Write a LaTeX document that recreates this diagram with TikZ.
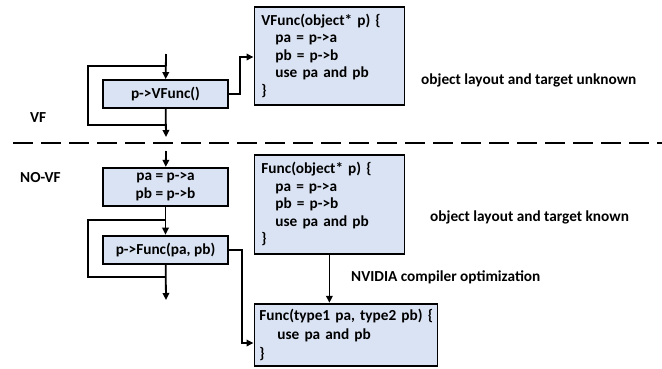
\documentclass[tikz,border=0pt]{standalone}
\usepackage{fontspec}
\setmainfont{Carlito}
\usetikzlibrary{arrows.meta, positioning, calc}
\definecolor{boxblue}{HTML}{DAE3F3}
\tikzstyle{block} = [rectangle, draw, line width=1.8pt, fill=boxblue, text centered, align=center, minimum width=125pt, inner sep=1pt]
\tikzstyle{code}  = [rectangle, draw, line width=1.8pt, fill=boxblue, align=left, inner xsep=7pt, inner ysep=0pt]
\tikzstyle{flow}  = [line width=1.8pt, -{Triangle[length=7pt, width=6.5pt]}]
\tikzstyle{backloop} = [line width=1.8pt]
\tikzstyle{divider} = [line width=1.8pt, dash pattern=on 20pt off 8pt]
\tikzstyle{note}  = [anchor=west, inner sep=0pt]

\begin{document}
\begin{tikzpicture}[x=1pt, y=-1pt, font=\bfseries\fontsize{15.3}{17.5}\selectfont]
	\useasboundingbox (0,0) rectangle (662,368);

	% Left column: call sites
	\node (vfcall) [block, minimum height=28pt] at (165.5,94) {p->VFunc()};
	\node (paload) [block, minimum height=38pt, below=58pt of vfcall] {pa = p->a\\pb = p->b};
	\node (fcall)  [block, minimum height=28pt, below=28pt of paload] {p->Func(pa, pb)};

	% Right column: callee bodies
	\node (vfbody) [code, anchor=north west, text width=136pt, minimum height=98pt] at (253.5,6)
		{VFunc(object* p) \{\\\hspace{14pt}pa = p->a\\\hspace{14pt}pb = p->b\\\hspace{14pt}use pa and pb\\\}};
	\node (fbody)  [code, anchor=north west, text width=136pt, minimum height=99pt] at (253.5,154)
		{Func(object* p) \{\\\hspace{14pt}pa = p->a\\\hspace{14pt}pb = p->b\\\hspace{14pt}use pa and pb\\\}};
	\node (fspec)  [code, below=48pt of fbody.south west, anchor=north west, text width=173pt, inner xsep=5pt,
		minimum height=62pt, font=\bfseries\fontsize{15.3}{19}\selectfont]
		{\mbox{Func(type1 pa, type2 pb) \{}\\\hspace{18pt}use pa and pb\\\}};

	% Labels
	\node (vflabel)   [note] at (30,118) {VF};
	\node (novflabel) [note] at (20,178) {NO-VF};
	\node (unknown)   [note] at (421,80)  {object layout and target unknown};
	\node (known)     [note] at (430,217) {object layout and target known};
	\node (nvopt)     [note] at (351,277) {NVIDIA compiler optimization};

	% Free ends and bends
	\coordinate (vfin)    at (166,54);
	\coordinate (vfout)   at (166,137);
	\coordinate (pain)    at (166,151);
	\coordinate (fout)    at (166,300);
	\coordinate (vfbend)  at (240,57);
	\coordinate (fbend)   at (242,343);
	\coordinate (divl)    at (13,143);
	\coordinate (divr)    at (662,143);

	% Divider
	\draw[divider] (divl) -- (divr);

	% Arrows - VF path
	\draw[flow] (vfin) -- (vfcall);
	\draw[flow] (vfcall) -- (vfout);
	\draw[backloop] (166,66) -| (88,125) -- (166,125);
	\draw[flow] (vfcall.east) -| (vfbend) -- (vfbend -| vfbody.west);

	% Arrows - NO-VF path
	\draw[flow] (pain) -- (paload);
	\draw[flow] (paload) -- (fcall);
	\draw[flow] (fcall) -- (fout);
	\draw[backloop] (166,220) -| (88,277) -- (166,277);
	\draw[flow] (fcall.east) -| (fbend) -- (fbend -| fspec.west);
	\draw[flow] (fbody.south) -- (fbody.south |- fspec.north);

\end{tikzpicture}
\end{document}
